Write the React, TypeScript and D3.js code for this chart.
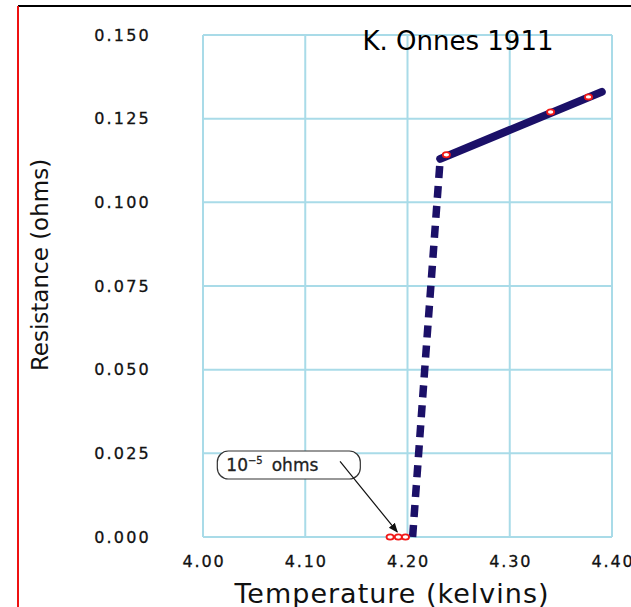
import * as d3 from 'd3';

// temperature (K) / resistance (ohms)
const xTicks = [4.0, 4.1, 4.2, 4.3, 4.4];
const yTicks = [0, 0.025, 0.05, 0.075, 0.1, 0.125, 0.15];

const transitionT = [4.205, 4.218, 4.232];
const transitionR = [0.0, 0.055, 0.113];

const normalT = [4.232, 4.39];
const normalR = [0.113, 0.133];

const measuredT = [4.183, 4.191, 4.198, 4.238, 4.34, 4.377];
const measuredR = [0.0, 0.0, 0.0, 0.1142, 0.127, 0.1315];

const W = 631;
const H = 607;
const margin = { top: 35, right: 19, bottom: 70, left: 203 };

const navy = '#1b1068';
const grid = '#a9dbe8';

export default function App() {
  const x = d3.scaleLinear().domain([4.0, 4.4]).range([margin.left, W - margin.right]);
  const y = d3.scaleLinear().domain([0, 0.15]).range([H - margin.bottom, margin.top]);

  const line = d3.line<[number, number]>().x(d => x(d[0])).y(d => y(d[1]));
  const trans = transitionT.map((t, i) => [t, transitionR[i]] as [number, number]);
  const normal = normalT.map((t, i) => [t, normalR[i]] as [number, number]);

  // annotation box position in data space
  const boxX = x(4.014);
  const boxY = y(0.0257);

  return (
    <svg
      width={W}
      height={H}
      style={{ position: 'absolute', left: 0, top: 0, background: '#fff' }}
      fontFamily="'DejaVu Sans', Verdana, sans-serif"
    >
      <defs>
        <marker id="arr" viewBox="0 0 10 10" refX="9" refY="5" markerWidth="8" markerHeight="8" orient="auto">
          <path d="M0,1 L10,5 L0,9 z" fill="#111" />
        </marker>
      </defs>
      {/* frame */}
      <line x1={18} x2={631} y1={6} y2={6} stroke="#000" strokeWidth={2} />
      <line x1={18} x2={18} y1={6} y2={607} stroke="#e11" strokeWidth={2} />

      {/* grid */}
      {xTicks.map(t => (
        <line key={'gx' + t} x1={x(t)} x2={x(t)} y1={y(0.15)} y2={y(0)} stroke={grid} strokeWidth={2} />
      ))}
      {yTicks.map(t => (
        <line key={'gy' + t} x1={x(4.0)} x2={x(4.4)} y1={y(t)} y2={y(t)} stroke={grid} strokeWidth={2} />
      ))}

      {/* tick labels */}
      {yTicks.map(t => (
        <text key={'ty' + t} x={151} y={y(t)} dy="0.36em" textAnchor="end" fontSize={16} letterSpacing={2.2} fill="#111" stroke="#111" strokeWidth={0.3}>
          {t.toFixed(3)}
        </text>
      ))}
      {xTicks.map(t => (
        <text key={'tx' + t} x={x(t) + 1} y={y(0) + 24} dy="0.36em" textAnchor="middle" fontSize={16} letterSpacing={1.8} fill="#111" stroke="#111" strokeWidth={0.3}>
          {t.toFixed(2)}
        </text>
      ))}

      {/* axis titles */}
      <text x={392} y={603} textAnchor="middle" fontSize={27} letterSpacing={1} fill="#111">
        Temperature (kelvins)
      </text>
      <text transform={`translate(48,265) rotate(-90)`} textAnchor="middle" fontSize={23} fill="#111">
        Resistance (ohms)
      </text>

      {/* title */}
      <text x={458} y={50} textAnchor="middle" fontSize={26} fontFamily="'Comic Sans MS', 'DejaVu Sans', sans-serif" fill="#000">
        K. Onnes 1911
      </text>

      {/* curve */}
      <path d={line(trans) ?? ''} fill="none" stroke={navy} strokeWidth={7.5} strokeDasharray="12 8" />
      <path d={line(normal) ?? ''} fill="none" stroke={navy} strokeWidth={8} strokeLinecap="round" />

      {/* measured points */}
      {measuredT.map((t, i) => (
        <ellipse key={'m' + i} cx={x(t)} cy={y(measuredR[i])} rx={3.6} ry={2.6} fill="#fff" stroke="#f01818" strokeWidth={1.8} />
      ))}

      {/* annotation */}
      <rect x={boxX} y={boxY} width={143} height={28} rx={11} fill="#fff" stroke="#333" strokeWidth={1.2} />
      <text x={boxX + 9} y={boxY + 20} fontSize={17} fill="#222" stroke="#222" strokeWidth={0.3}>
        10
        <tspan dy={-7} fontSize={10}>−5</tspan>
        <tspan dy={7} dx={9}>ohms</tspan>
      </text>
      <line x1={x(4.134)} y1={y(0.0226)} x2={x(4.19)} y2={y(0.0015)} stroke="#111" strokeWidth={1.2} markerEnd="url(#arr)" />
    </svg>
  );
}
